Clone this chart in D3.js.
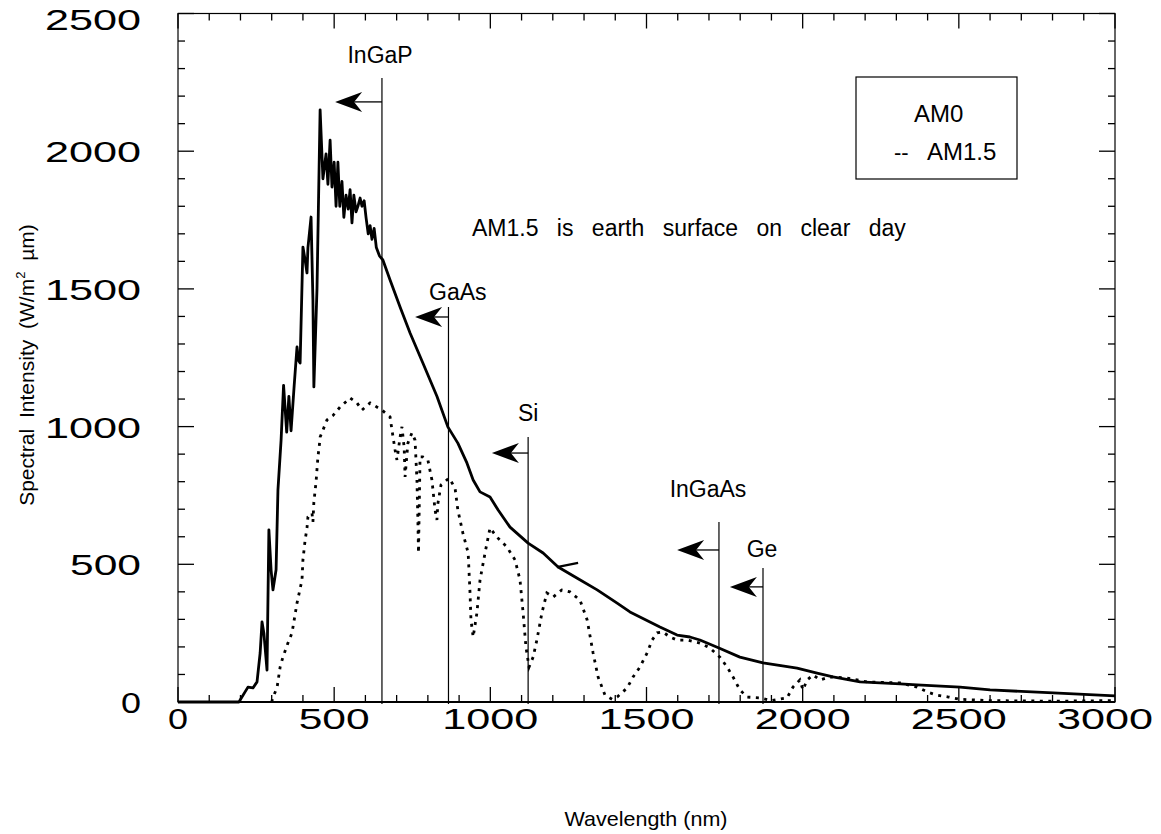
<!DOCTYPE html>
<html>
<head>
<meta charset="utf-8">
<script src="https://cdn.jsdelivr.net/npm/d3@7/dist/d3.min.js"></script>
<style>
  html, body { margin: 0; padding: 0; background: #fff; }
  svg { display: block; }
  text { font-family: 'Liberation Sans', Arial, Helvetica, sans-serif; fill: #000; }
</style>
</head>
<body>
<svg id="chart" width="1161" height="834"></svg>
<script>
// ---------------- data ----------------
const am0Wavelength = [0,195,224,240,253,263,269,275,285,291,298,304,314,320,330,338,348,355,362,372,381,386,391,400,407,413,416,426,432,435,445,455,464,474,480,487,493,500,506,512,518,525,531,538,545,551,557,563,570,576,583,589,596,602,609,615,621,628,635,645,656,679,711,743,784,829,864,896,925,945,967,999,1025,1063,1121,1169,1217,1277,1342,1406,1447,1479,1543,1598,1639,1671,1732,1799,1873,1982,2046,2097,2184,2312,2366,2504,2600,2802,3000];
const am0Intensity  = [0,0,54,51,73,178,291,250,116,625,480,407,480,770,950,1150,980,1110,985,1150,1289,1240,1231,1652,1605,1558,1650,1761,1460,1144,1500,2150,1900,1990,1880,2040,1870,1960,1800,1960,1800,1890,1760,1840,1790,1860,1740,1840,1780,1800,1830,1800,1820,1760,1700,1730,1680,1720,1650,1620,1605,1532,1434,1340,1231,1110,999,940,868,806,763,744,697,635,577,541,490,450,407,359,327,309,272,243,236,225,196,163,142,123,105,91,73,66,62,54,44,33,22];

const am15Wavelength = [300,304,317,327,336,352,365,381,397,400,407,413,416,429,432,435,442,448,452,455,477,496,519,551,573,589,615,653,679,685,695,701,711,717,724,727,736,749,759,765,768,770,775,784,800,813,823,829,832,842,868,887,896,912,929,935,938,945,957,967,983,999,1021,1053,1079,1095,1105,1114,1124,1137,1149,1165,1181,1201,1229,1255,1287,1310,1329,1345,1367,1390,1406,1438,1457,1479,1502,1518,1534,1553,1575,1598,1630,1671,1703,1735,1758,1777,1799,1822,1863,1900,1950,1969,1991,2001,2014,2033,2056,2078,2097,2142,2206,2312,2366,2400,2430,2467,2504,2600,2800,3000];
const am15Intensity  = [0,18,51,127,163,214,251,359,443,516,588,632,672,686,654,726,799,890,926,962,1024,1040,1071,1104,1086,1060,1086,1060,1035,988,915,879,962,999,926,817,940,977,951,806,661,541,890,890,879,806,697,661,720,788,813,777,697,614,541,396,298,236,323,443,541,632,599,563,516,443,323,200,127,163,225,323,396,381,407,400,370,298,178,91,25,10,18,51,91,127,178,225,251,254,236,225,225,214,196,163,127,91,44,18,15,5,15,54,80,44,80,98,80,88,91,87,73,69,54,36,25,18,10,5,3,5];

// band-gap markers
const gapLabels        = ["InGaP", "GaAs", "Si", "InGaAs", "Ge"];
const gapWavelength    = [653, 866, 1121, 1732, 1873];
const gapLineTop       = [2266, 1434, 962, 654, 487];
const gapArrowLevel    = [2179, 1398, 904, 552, 418];
const gapArrowTip      = [503, 759, 1005, 1598, 1767];
const gapLabelWave     = [647, 896, 1121, 1697, 1870];
const gapLabelLevel    = [2320, 1460, 1020, 745, 525];

const xTickValues = [0, 500, 1000, 1500, 2000, 2500, 3000];
const yTickValues = [0, 500, 1000, 1500, 2000, 2500];
const legendLabels = ["AM0", "AM1.5"];
const noteText = "AM1.5 is earth surface on clear day";

// ---------------- layout ----------------
const svg = d3.select("#chart");
const W = 1161;
const L = 178, R = 1115, T = 13.5, B = 702;
const x = d3.scaleLinear().domain([0, 3000]).range([L, R]);
const y = d3.scaleLinear().domain([0, 2500]).range([B, T]);

// frame
svg.append("rect").attr("x", L).attr("y", T).attr("width", R - L).attr("height", B - T)
  .attr("fill", "none").attr("stroke", "#000").attr("stroke-width", 1.2);
svg.append("line").attr("x1", L).attr("x2", R).attr("y1", B).attr("y2", B)
  .attr("stroke", "#000").attr("stroke-width", 2);

// ticks (inward, all sides)
const xMinor = d3.range(0, 3001, 100);
const yMinor = d3.range(0, 2501, 100);
const tickG = svg.append("g").attr("stroke", "#000").attr("stroke-width", 1.3);
xMinor.forEach(v => {
  const len = v % 500 === 0 ? 15 : 7;
  tickG.append("line").attr("x1", x(v)).attr("x2", x(v)).attr("y1", B).attr("y2", B - len);
  tickG.append("line").attr("x1", x(v)).attr("x2", x(v)).attr("y1", T).attr("y2", T + len);
});
yMinor.forEach(v => {
  const len = v % 500 === 0 ? 16 : 7;
  tickG.append("line").attr("y1", y(v)).attr("y2", y(v)).attr("x1", L).attr("x2", L + len);
  tickG.append("line").attr("y1", y(v)).attr("y2", y(v)).attr("x1", R).attr("x2", R - len);
});

// tick labels (wide, Helvetica-like digits)
const tickFont = 29;
const labelLen = d => { const n = String(d).length; return n === 1 ? 20 : n * 25 - 4; };
svg.append("g").selectAll("text").data(xTickValues).join("text")
  .attr("x", d => Math.min(x(d), W - 8 - labelLen(d) / 2)).attr("y", 729)
  .attr("text-anchor", "middle")
  .attr("font-size", tickFont)
  .attr("textLength", labelLen)
  .attr("lengthAdjust", "spacingAndGlyphs")
  .text(d => d);
svg.append("g").selectAll("text").data(yTickValues).join("text")
  .attr("x", 141).attr("y", d => y(d) + 11 + (d === 2500 ? 5 : 0))
  .attr("text-anchor", "end")
  .attr("font-size", tickFont)
  .attr("textLength", labelLen)
  .attr("lengthAdjust", "spacingAndGlyphs")
  .text(d => d);

// axis titles
svg.append("text").attr("x", 646).attr("y", 826)
  .attr("text-anchor", "middle").attr("font-size", 21)
  .attr("textLength", 163).attr("lengthAdjust", "spacingAndGlyphs")
  .text("Wavelength (nm)");
const yt = svg.append("text").attr("transform", "translate(34,365) rotate(-90)")
  .attr("text-anchor", "middle").attr("font-size", 21).attr("word-spacing", 5);
yt.append("tspan").text("Spectral Intensity (W/m");
yt.append("tspan").attr("dy", -9).attr("font-size", 13).text("2");
yt.append("tspan").attr("dy", 9).text(" \u00b5m)");

// curves
const am0 = am0Wavelength.map((w, i) => [w, am0Intensity[i]]);
const am15 = am15Wavelength.map((w, i) => [w, am15Intensity[i]]);
const line = d3.line().x(d => x(d[0])).y(d => y(d[1]));
svg.append("path").datum(am15).attr("d", line)
  .attr("fill", "none").attr("stroke", "#000").attr("stroke-width", 2.8)
  .attr("stroke-dasharray", "3,5.5");
svg.append("path").datum(am0).attr("d", line)
  .attr("fill", "none").attr("stroke", "#000").attr("stroke-width", 2.8)
  .attr("stroke-linejoin", "round");

// band-gap markers
const ann = svg.append("g");
gapLabels.forEach((lab, i) => {
  const lx = x(gapWavelength[i]);
  ann.append("line").attr("x1", lx).attr("x2", lx).attr("y1", y(gapLineTop[i])).attr("y2", B + 2)
    .attr("stroke", "#000").attr("stroke-width", 1.2);
  const tx = x(gapArrowTip[i]), ty = y(gapArrowLevel[i]);
  const hl = 27, hw = 10, notch = 8;
  ann.append("line").attr("x1", tx + hl - notch).attr("x2", lx).attr("y1", ty).attr("y2", ty)
    .attr("stroke", "#000").attr("stroke-width", 1.3);
  ann.append("path")
    .attr("d", `M${tx},${ty} L${tx + hl},${ty - hw} L${tx + hl - notch},${ty} L${tx + hl},${ty + hw} Z`)
    .attr("fill", "#000");
  ann.append("text").attr("x", x(gapLabelWave[i])).attr("y", y(gapLabelLevel[i]))
    .attr("text-anchor", "middle").attr("font-size", 23).text(lab);
});
// small stray mark on the AM0 curve
svg.append("path").attr("d", line([[1213, 490], [1281, 505]]))
  .attr("stroke", "#000").attr("stroke-width", 2.2).attr("fill", "none");

// note
svg.append("text").attr("x", 472).attr("y", 236).attr("font-size", 23)
  .attr("word-spacing", 12).text(noteText);

// legend
svg.append("rect").attr("x", 856).attr("y", 77).attr("width", 161).attr("height", 102)
  .attr("fill", "none").attr("stroke", "#000").attr("stroke-width", 1.2);
svg.append("text").attr("x", 914).attr("y", 122).attr("font-size", 24).text(legendLabels[0]);
svg.append("text").attr("x", 894).attr("y", 160).attr("font-size", 22).text("--");
svg.append("text").attr("x", 927).attr("y", 160).attr("font-size", 24).text(legendLabels[1]);
</script>
</body>
</html>
